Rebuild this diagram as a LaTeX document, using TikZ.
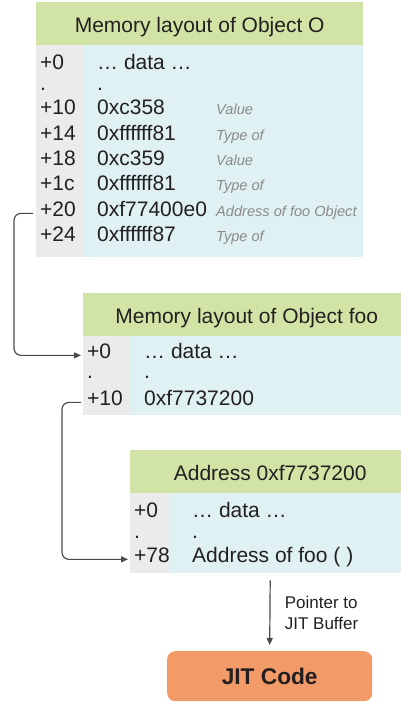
\documentclass[tikz,border=0pt]{standalone}
\usepackage{fontspec}
\setmainfont{Liberation Sans}
\usepackage{xcolor}
\definecolor{green200}{HTML}{D2E4A5}
\definecolor{cyan50}{HTML}{DFF1F3}
\definecolor{gray150}{HTML}{EBEBEB}
\definecolor{ink900}{HTML}{231F20}
\definecolor{gray500}{HTML}{8A8A8A}
\definecolor{gray700}{HTML}{4A4A4A}
\definecolor{orange400}{HTML}{F29A68}
\usepackage{tikz}
\usetikzlibrary{arrows.meta, positioning, calc}

\begin{document}
\begin{tikzpicture}[
        x=1pt, y=-1pt,
        head/.style={rectangle, anchor=north west, fill=green200, minimum height=43pt, inner sep=0pt, text=ink900, text height=17pt, text depth=0pt, font=\fontsize{21}{25}\selectfont},
        body/.style={rectangle, anchor=north west, fill=cyan50, inner sep=0pt},
        offcol/.style={rectangle, anchor=north west, fill=gray150, inner sep=0pt},
        cell/.style={anchor=base west, inner sep=0pt, text=ink900, font=\fontsize{21}{25}\selectfont},
        note/.style={anchor=base west, inner sep=0pt, text=gray500, font=\fontsize{14.6}{17}\selectfont\itshape},
        link/.style={-{Triangle[length=7pt, width=6pt]}, line width=1.2pt, draw=gray700, rounded corners=7pt},
        jit/.style={rectangle, rounded corners=8pt, anchor=north west, fill=orange400, minimum width=205pt, minimum height=50pt, text=ink900, font=\fontsize{22.7}{26}\selectfont\bfseries}
    ]
        \clip (0,0) rectangle (401,702);

        % Object O
        \node[head, minimum width=327pt] (oHead) at (36,2) {Memory layout of Object O};
        \node[body, minimum width=327pt, minimum height=212pt] (oBody) at (36,45) {};
        \node[offcol, minimum width=47pt, minimum height=212pt] (oCol) at (36,45) {};
        \node[cell] (oOff0) at (40,69) {+0};     \node[cell] (oVal0) at (97,69) {… data …};
        \node[cell] (oOffDot) at (40,90) {.};    \node[cell] (oValDot) at (97,90) {.};
        \node[cell] (oOff10) at (40,114.5) {+10}; \node[cell] (oVal10) at (97,114.5) {0xc358};      \node[note] (oNote10) at (216,114.5) {Value};
        \node[cell] (oOff14) at (40,140) {+14};   \node[cell] (oVal14) at (97,140) {0xffffff81};    \node[note] (oNote14) at (216,140) {Type of};
        \node[cell] (oOff18) at (40,165.5) {+18}; \node[cell] (oVal18) at (97,165.5) {0xc359};      \node[note] (oNote18) at (216,165.5) {Value};
        \node[cell] (oOff1c) at (40,190.5) {+1c}; \node[cell] (oVal1c) at (97,190.5) {0xffffff81};  \node[note] (oNote1c) at (216,190.5) {Type of};
        \node[cell] (oOff20) at (40,216) {+20};   \node[cell] (oVal20) at (97,216) {0xf77400e0};    \node[note] (oNote20) at (216,216) {Address of foo Object};
        \node[cell] (oOff24) at (40,241.5) {+24}; \node[cell] (oVal24) at (97,241.5) {0xffffff87};  \node[note] (oNote24) at (216,241.5) {Type of};

        % Object foo
        \node[head, minimum width=327pt] (fHead) at (83,293) {Memory layout of Object foo};
        \node[body, minimum width=327pt, minimum height=79pt] (fBody) at (83,336) {};
        \node[offcol, minimum width=47pt, minimum height=79pt] (fCol) at (83,336) {};
        \node[cell] (fOff0) at (87,358) {+0};    \node[cell] (fVal0) at (144,358) {… data …};
        \node[cell] (fOffDot) at (87,378) {.};   \node[cell] (fValDot) at (144,378) {.};
        \node[cell] (fOff10) at (87,405) {+10};  \node[cell] (fVal10) at (144,405) {0xf7737200};

        % Address 0xf7737200
        \node[head, minimum width=280pt] (aHead) at (130,450) {Address 0xf7737200};
        \node[body, minimum width=280pt, minimum height=80pt] (aBody) at (130,493) {};
        \node[offcol, minimum width=40pt, minimum height=80pt] (aCol) at (130,493) {};
        \node[cell] (aOff0) at (134,517.5) {+0};   \node[cell] (aVal0) at (192,517.5) {… data …};
        \node[cell] (aOffDot) at (134,538) {.};    \node[cell] (aValDot) at (192,538) {.};
        \node[cell] (aOff78) at (134,562) {+78};   \node[cell] (aVal78) at (192,562) {Address of foo ( )};

        % JIT buffer
        \node[jit] (jitCode) at (167,651) {JIT Code};

        % Pointers
        \draw[link] ([xshift=-7pt]oOff20.mid west) -- ++(-19,0) |- ([xshift=-6pt]fOff0.mid west);
        \draw[link] ([xshift=-6pt]fOff10.mid west) -- ++(-19,0) |- ([xshift=-6pt]aOff78.mid west);
        \draw[link] ([yshift=-7pt]aBody.south) -- node[right=11pt, align=left, text=ink900, font=\fontsize{17}{21}\selectfont] {Pointer to\\JIT Buffer} ([yshift=6pt]jitCode.north);
    \end{tikzpicture}
\end{document}
